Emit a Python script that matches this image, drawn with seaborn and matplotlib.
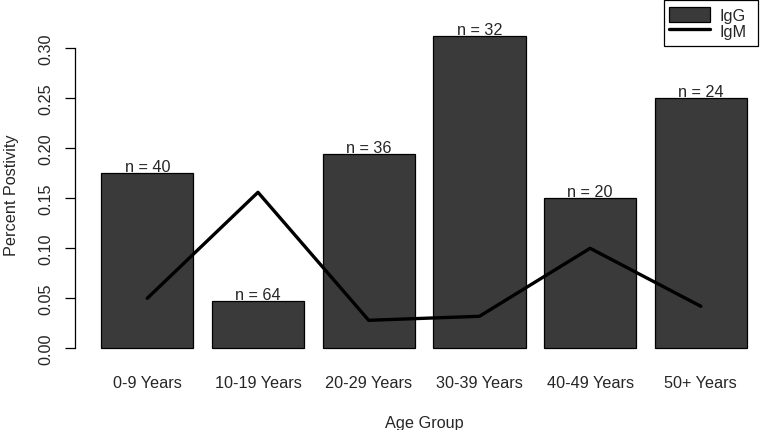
import numpy as np
import pandas as pd
import matplotlib
matplotlib.use("Agg")
import matplotlib.pyplot as plt
import seaborn as sns
from matplotlib.patches import Patch, Rectangle
from matplotlib.lines import Line2D

# values
age_groups = ['0-9 Years', '10-19 Years', '20-29 Years', '30-39 Years', '40-49 Years', '50+ Years']
igg = [0.175, 0.047, 0.194, 0.3125, 0.15, 0.25]
igm = [0.05, 0.156, 0.028, 0.032, 0.10, 0.042]
n_labels = ['n = 40', 'n = 64', 'n = 36', 'n = 32', 'n = 20', 'n = 24']

df = pd.DataFrame({'Age': age_groups, 'IgG': igg, 'IgM': igm})

sns.set_style('white')
plt.rcParams['font.family'] = ['Liberation Sans', 'DejaVu Sans']
fs = 11.7
plt.rcParams['font.size'] = fs

W, H = 760, 431
fig = plt.figure(figsize=(W / 100, H / 100), dpi=100)
# axes box in pixels
ax = fig.add_axes([75.3 / W, (H - 361.8) / H, (772.6 - 75.3) / W, 361.8 / H])

bar_col = '#3a3a3a'
sns.barplot(data=df, x='Age', y='IgG', color=bar_col, width=0.833,
            saturation=1, edgecolor='black', linewidth=0.9, ax=ax)
sns.lineplot(x=np.arange(len(age_groups)), y=igm, color='black', linewidth=2.4, ax=ax)

for i, lab in enumerate(n_labels):
    ax.annotate(lab, (i, igg[i]), xytext=(0, 1.5), textcoords='offset points',
                ha='center', va='baseline', fontsize=fs)

ax.set_xlim(-0.650, 5.648)
ax.set_ylim(-0.0125, 0.3493)
ax.set_yticks([0, 0.05, 0.10, 0.15, 0.20, 0.25, 0.30])
ax.set_yticklabels(['0.00', '0.05', '0.10', '0.15', '0.20', '0.25', '0.30'],
                   rotation=90, va='center')
ax.tick_params(axis='y', length=7, width=0.9, color='black', pad=9, left=True)
ax.tick_params(axis='x', length=0, pad=10)

for s in ['top', 'right', 'bottom']:
    ax.spines[s].set_visible(False)
ax.spines['left'].set_bounds(0, 0.30)
ax.spines['left'].set_color('black')
ax.spines['left'].set_linewidth(0.9)

ax.set_xlabel('Age Group', labelpad=18)
ax.set_ylabel('Percent Postivity')
ax.yaxis.set_label_coords((19.5 - 75.3) / 697.3, (361.8 - 195) / 361.8)

# legend, frame drawn by hand
handles = [Patch(facecolor=bar_col, edgecolor='black', linewidth=0.9),
           Line2D([0], [0], color='black', linewidth=2.4)]
leg = fig.legend(handles, ['IgG', 'IgM'], loc='upper left',
                 bbox_to_anchor=(664 / W, 1 - 3 / H), bbox_transform=fig.transFigure,
                 borderaxespad=0, frameon=False,
                 labelspacing=0.0, handlelength=2.5, handleheight=1.05,
                 handletextpad=0.6, borderpad=0.3, fontsize=fs)
fig.add_artist(Rectangle((664 / W, 1 - 46.5 / H), 94 / W, 46 / H,
                         transform=fig.transFigure, fill=False,
                         edgecolor='black', linewidth=0.9))

fig.savefig('out.png', dpi=100)
